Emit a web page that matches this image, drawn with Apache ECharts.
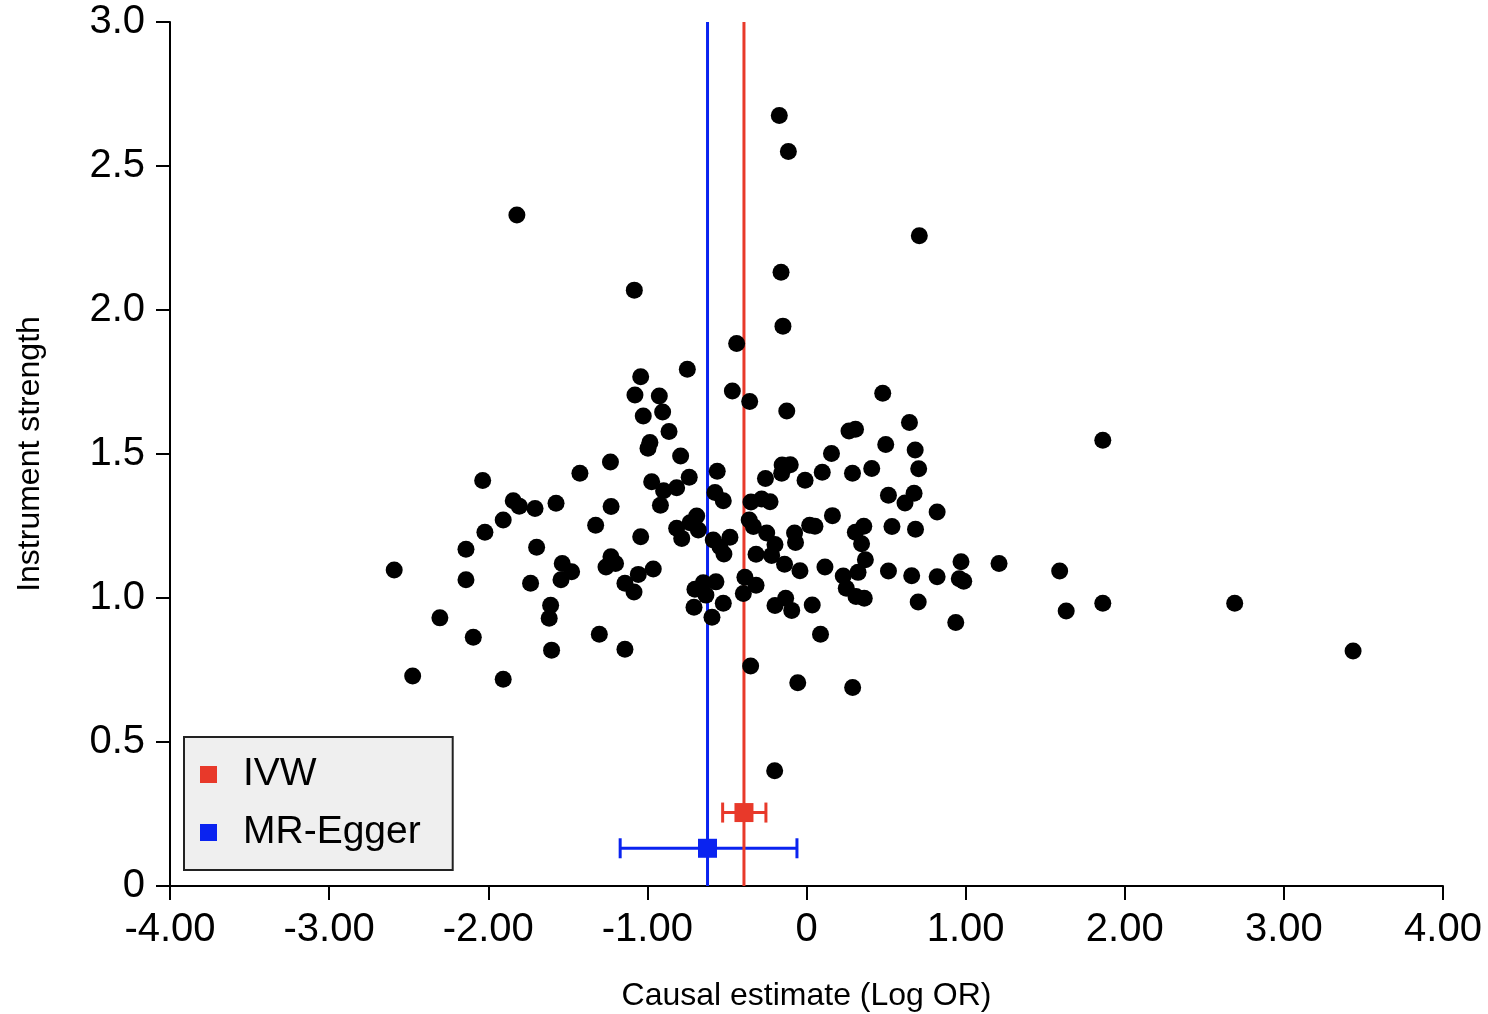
<!DOCTYPE html>
<html>
<head>
<meta charset="utf-8">
<script src="https://cdn.jsdelivr.net/npm/echarts@6/dist/echarts.min.js"></script>
<style>
html,body{margin:0;padding:0;background:#fff;}
#chart{width:1488px;height:1014px;}
</style>
</head>
<body>
<div id="chart"></div>
<script>
// Per-variant causal estimates (Log OR) and instrument strengths
const estimateX = [
 -0.171,-0.114,-1.820,0.709,-0.160,-1.082,-0.148,-0.439,-0.749,-1.042,
 -0.466,0.479,-1.078,-0.925,-0.357,-1.026,-0.904,-0.124,0.647,-0.864,
 0.267,0.308,1.862,-0.984,-0.996,0.498,0.683,0.157,-1.232,-0.791,
 -2.035,-1.424,-0.561,-0.153,-0.102,-0.156,0.705,0.410,0.099,-0.258,
 0.289,-0.009,-0.973,-0.737,-0.816,-0.898,-1.843,-1.805,-1.706,-1.574,
 -1.228,-0.918,-0.575,-0.523,0.515,0.676,0.619,-0.349,-0.282,-0.229,
 0.821,-1.906,-2.021,-1.325,-0.690,-0.360,-0.334,0.163,0.020,0.053,
 0.537,0.307,0.360,0.685,-0.732,-0.816,-0.680,-0.784,-1.042,-1.696,
 -2.140,-1.229,-0.586,-0.544,-0.481,-0.519,-0.250,-0.198,-0.219,-0.075,
 -0.069,0.346,0.370,0.324,-0.317,-1.535,-1.476,-1.543,-1.260,-1.200,
 -0.963,-0.138,-0.041,0.116,0.515,0.971,1.210,1.591,-2.591,-2.140,
 -1.734,-1.057,-1.141,-1.084,-0.649,-0.701,-0.632,-0.569,-0.387,-0.317,
 -0.397,0.231,0.250,0.311,0.363,0.661,0.821,0.960,0.988,-1.608,
 -1.617,-0.707,-0.523,-0.198,-0.131,-0.093,0.036,0.702,1.632,1.862,
 2.691,-2.304,-0.594,-2.094,-1.302,0.088,0.938,-1.602,-1.141,3.435,
 -0.351,-2.475,-1.906,-0.055,0.290,-0.200
];
const strengthY = [
 2.675,2.550,2.330,2.258,2.131,2.069,1.944,1.884,1.794,1.768,
 1.719,1.711,1.705,1.701,1.682,1.632,1.646,1.649,1.609,1.578,
 1.580,1.586,1.548,1.540,1.520,1.533,1.514,1.502,1.472,1.493,
 1.408,1.433,1.440,1.462,1.463,1.433,1.449,1.450,1.437,1.415,
 1.433,1.409,1.404,1.419,1.383,1.372,1.338,1.319,1.311,1.329,
 1.318,1.322,1.366,1.338,1.357,1.364,1.330,1.333,1.344,1.334,
 1.299,1.271,1.228,1.253,1.285,1.271,1.248,1.286,1.253,1.249,
 1.248,1.228,1.249,1.239,1.261,1.242,1.236,1.207,1.213,1.176,
 1.169,1.143,1.201,1.178,1.211,1.153,1.226,1.186,1.148,1.226,
 1.193,1.188,1.133,1.089,1.152,1.120,1.091,1.063,1.108,1.120,
 1.101,1.117,1.095,1.108,1.094,1.126,1.120,1.094,1.097,1.063,
 1.051,1.082,1.051,1.021,1.053,1.030,1.010,1.056,1.072,1.044,
 1.016,1.076,1.034,1.005,0.999,1.077,1.074,1.067,1.058,0.975,
 0.930,0.968,0.982,0.974,0.999,0.957,0.976,0.986,0.955,0.982,
 0.982,0.931,0.933,0.864,0.874,0.874,0.915,0.819,0.822,0.816,
 0.764,0.729,0.718,0.706,0.689,0.400
];

// Summary estimates
const methodNames = ['IVW', 'MR-Egger'];
const methodEstimate = [-0.393, -0.622];
const methodLow = [-0.527, -1.171];
const methodHigh = [-0.255, -0.060];
const methodHeight = [0.255, 0.131];
const methodColors = ['#e8392a', '#0a23f0'];

// Axis ticks
const xTickValues = [-4, -3, -2, -1, 0, 1, 2, 3, 4];
const xTickLabels = ['-4.00', '-3.00', '-2.00', '-1.00', '0', '1.00', '2.00', '3.00', '4.00'];
const yTickValues = [0, 0.5, 1, 1.5, 2, 2.5, 3];
const yTickLabels = ['0', '0.5', '1.0', '1.5', '2.0', '2.5', '3.0'];

const FONT = "'Liberation Sans', Arial, Helvetica, sans-serif";

const points = estimateX.map((x, i) => [x, strengthY[i]]);

const chart = echarts.init(document.getElementById('chart'), null, {renderer: 'canvas'});

const series = [];

// error bars
methodNames.forEach((name, i) => {
  series.push({
    type: 'custom',
    name: name + ' CI',
    z: 2,
    silent: true,
    encode: {x: [0, 2], y: 1},
    data: [[methodLow[i], methodHeight[i], methodHigh[i]]],
    renderItem: function (params, api) {
      const y = api.value(1);
      const p1 = api.coord([api.value(0), y]);
      const p2 = api.coord([api.value(2), y]);
      const cap = 10;
      const st = {stroke: methodColors[i], lineWidth: 3};
      return {
        type: 'group',
        children: [
          {type: 'line', shape: {x1: p1[0], y1: p1[1], x2: p2[0], y2: p2[1]}, style: st},
          {type: 'line', shape: {x1: p1[0], y1: p1[1] - cap, x2: p1[0], y2: p1[1] + cap}, style: st},
          {type: 'line', shape: {x1: p2[0], y1: p2[1] - cap, x2: p2[0], y2: p2[1] + cap}, style: st}
        ]
      };
    }
  });
});

// vertical estimate lines
methodNames.forEach((name, i) => {
  series.push({
    type: 'line',
    name: name + ' line',
    z: 3,
    silent: true,
    symbol: 'none',
    lineStyle: {color: methodColors[i], width: 3},
    data: [[methodEstimate[i], 0], [methodEstimate[i], 3]]
  });
});

// variant points
series.push({
  type: 'scatter',
  name: 'SNPs',
  z: 4,
  symbol: 'circle',
  symbolSize: 17,
  itemStyle: {color: '#000', opacity: 1},
  data: points
});

// point estimates
methodNames.forEach((name, i) => {
  series.push({
    type: 'scatter',
    name: name,
    z: 5,
    symbol: 'rect',
    symbolSize: 19,
    itemStyle: {color: methodColors[i], opacity: 1},
    data: [[methodEstimate[i], methodHeight[i]]]
  });
});

chart.setOption({
  animation: false,
  backgroundColor: '#ffffff',
  textStyle: {fontFamily: FONT},
  grid: {left: 170, right: 45, top: 22, bottom: 128, containLabel: false, outerBoundsMode: 'none'},
  legend: {
    data: methodNames,
    orient: 'vertical',
    left: 184,
    top: 737,
    icon: 'rect',
    itemWidth: 17,
    itemHeight: 17,
    itemGap: 9,
    padding: [13, 32, 13, 16],
    backgroundColor: '#efefef',
    borderColor: '#222',
    borderWidth: 2,
    borderRadius: 0,
    selectedMode: false,
    textStyle: {fontFamily: FONT, fontSize: 39, lineHeight: 40, color: '#000', padding: [9, 0, 0, 21]}
  },
  xAxis: {
    type: 'value',
    min: -4,
    max: 4,
    interval: 1,
    name: 'Causal estimate (Log OR)',
    nameLocation: 'middle',
    nameGap: 94,
    nameTextStyle: {fontFamily: FONT, fontSize: 32, color: '#000'},
    splitLine: {show: false},
    axisLine: {onZero: false, lineStyle: {color: '#000', width: 2}},
    axisTick: {length: 14, lineStyle: {color: '#000', width: 2}},
    axisLabel: {
      margin: 24,
      fontFamily: FONT,
      fontSize: 40,
      color: '#000',
      formatter: v => { const k = xTickValues.indexOf(v); return k >= 0 ? xTickLabels[k] : ''; }
    }
  },
  yAxis: {
    type: 'value',
    min: 0,
    max: 3,
    interval: 0.5,
    name: 'Instrument strength',
    nameLocation: 'middle',
    nameGap: 124,
    nameTextStyle: {fontFamily: FONT, fontSize: 32, color: '#000'},
    splitLine: {show: false},
    axisLine: {onZero: false, lineStyle: {color: '#000', width: 2}},
    axisTick: {length: 14, lineStyle: {color: '#000', width: 2}},
    axisLabel: {
      margin: 25,
      fontFamily: FONT,
      fontSize: 40,
      color: '#000',
      formatter: v => { const k = yTickValues.findIndex(t => Math.abs(t - v) < 1e-9); return k >= 0 ? yTickLabels[k] : ''; }
    }
  },
  series: series
});
</script>
</body>
</html>
